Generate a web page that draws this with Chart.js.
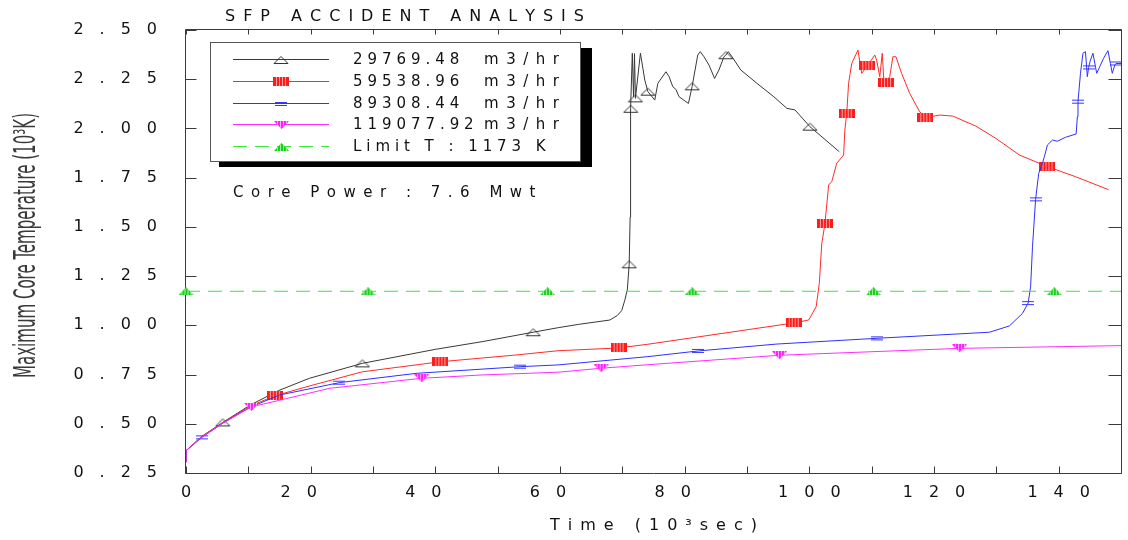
<!DOCTYPE html>
<html>
<head>
<meta charset="utf-8">
<title>SFP Accident Analysis</title>
<script src="https://cdn.jsdelivr.net/npm/chart.js@4/dist/chart.umd.min.js"></script>
<style>
  body { margin: 0; background: #fff; }
  canvas { display: block; }
</style>
</head>
<body>
<canvas id="sfpChart" width="1128" height="540"></canvas>
<script>
// Pool cooling flow of each case (m3/hr)
const flowRates = ["29769.48", "59538.96", "89308.44", "119077.92"];
const limitText = "Limit T : 1173 K";
const powerText = "Core Power : 7.6 Mwt";

// Axis ticks
const xLabels = [0, 20, 40, 60, 80, 100, 120, 140];
const yTicks = [0.25, 0.5, 0.75, 1.0, 1.25, 1.5, 1.75, 2.0, 2.25, 2.5];

// Case 1 : time (10^3 sec) / max core temperature (10^3 K)
const time1 = [0, 0, 2.5, 5.9, 10.3, 14.8, 19.8, 28.3, 40.0, 47.5,
  55.7, 59.7, 63.0, 68.0, 69.2, 69.9, 70.4, 70.8, 71.1, 71.25,
  71.3, 71.35, 71.6, 71.8, 71.95, 72.1, 72.9, 73.6, 74.1, 75.2,
  75.7, 77.0, 77.5, 78.1, 78.6, 79.1, 80.6, 81.2, 82.1, 82.5,
  83.1, 83.9, 84.8, 85.5, 86.3, 86.6, 87.0, 87.6, 89.0, 91.6,
  94.3, 96.4, 97.7, 100.1, 104.8];
const temp1 = [0.305, 0.363, 0.435, 0.507, 0.595, 0.668, 0.731, 0.807, 0.878, 0.917,
  0.965, 0.988, 1.005, 1.027, 1.05, 1.075, 1.128, 1.18, 1.31, 1.55,
  1.99, 2.10, 2.382, 2.16, 2.38, 2.153, 2.382, 2.246, 2.187, 2.144,
  2.229, 2.288, 2.263, 2.212, 2.198, 2.161, 2.127, 2.214, 2.373, 2.39,
  2.364, 2.322, 2.254, 2.297, 2.364, 2.372, 2.39, 2.364, 2.297, 2.229,
  2.161, 2.102, 2.094, 2.009, 1.882];
const marks1 = [5.9, 28.3, 55.7, 71.1, 71.35, 72.1, 74.1, 81.2, 86.6, 100.1];

// Case 2
const time2 = [0, 0, 2.5, 5.9, 10.3, 14.25, 19.8, 28.3, 40.8, 52.8,
  59.7, 69.4, 74.1, 97.5, 99.9, 101.1, 101.6, 102.0, 102.5, 103.1,
  103.6, 104.4, 105.5, 105.7, 106.0, 106.3, 106.8, 107.8, 108.4, 109.3,
  110.5, 110.8, 111.3, 111.7, 111.95, 112.3, 112.9, 113.4, 113.9, 114.8,
  116.1, 117.7, 118.6, 120.9, 123.0, 126.7, 129.9, 133.7, 138.2, 142.7,
  148.0];
const temp2 = [0.305, 0.363, 0.435, 0.505, 0.59, 0.642, 0.692, 0.764, 0.815, 0.849,
  0.871, 0.885, 0.904, 1.012, 1.027, 1.095, 1.213, 1.417, 1.515, 1.713,
  1.73, 1.823, 1.865, 1.992, 2.077, 2.229, 2.33, 2.398, 2.28, 2.318,
  2.373, 2.347, 2.263, 2.382, 2.246, 2.234, 2.263, 2.364, 2.364, 2.28,
  2.178, 2.085, 2.054, 2.068, 2.063, 2.012, 1.95, 1.865, 1.806, 1.755,
  1.689];
const marks2 = [14.25, 40.8, 69.4, 97.5, 102.5, 106.0, 109.3, 112.3, 118.6, 138.2];

// Case 3
const time3 = [0, 0, 2.55, 5.9, 10.3, 15.0, 24.6, 36.9, 53.6, 59.7,
  74.1, 82.2, 94.8, 110.8, 128.9, 132.1, 134.2, 135.1, 135.5, 135.8,
  136.3, 136.8, 137.4, 137.7, 138.2, 139.0, 139.8, 141.1, 142.8, 143.0,
  143.1, 143.5, 143.9, 144.3, 144.6, 144.8, 145.1, 145.5, 146.1, 146.6,
  147.2, 147.9, 148.3, 148.6, 149.0, 149.2, 150];
const temp3 = [0.305, 0.363, 0.431, 0.503, 0.584, 0.646, 0.709, 0.756, 0.790, 0.799,
  0.841, 0.870, 0.905, 0.934, 0.965, 0.997, 1.061, 1.113, 1.196, 1.399,
  1.64, 1.772, 1.823, 1.856, 1.916, 1.941, 1.935, 1.955, 1.972, 2.06,
  2.136, 2.28, 2.382, 2.39, 2.263, 2.31, 2.347, 2.382, 2.28, 2.314,
  2.356, 2.395, 2.33, 2.28, 2.322, 2.33, 2.33];
const marks3 = [2.55, 24.6, 53.6, 82.2, 110.8, 135.1, 136.3, 143.1, 144.8, 149.2];

// Case 4
const time4 = [0, 0, 2.5, 5.9, 10.5, 15.6, 23.0, 37.8, 47.5, 59.7, 66.6, 74.1, 95.2, 124.1, 150];
const temp4 = [0.305, 0.363, 0.432, 0.503, 0.586, 0.624, 0.680, 0.731, 0.748, 0.762, 0.782, 0.800, 0.848, 0.883, 0.897];
const marks4 = [10.5, 37.8, 66.6, 95.2, 124.1];

// Fuel temperature limit
const timeLimit = [0, 29.2, 58.0, 81.2, 110.3, 139.3, 150];
const tempLimit = [1.173, 1.173, 1.173, 1.173, 1.173, 1.173, 1.173];
const marksLimit = [0, 29.2, 58.0, 81.2, 110.3, 139.3];

const FACE = "'DejaVu Sans', sans-serif";
const EM = "\u2003", EN = "\u2002", THIRD = "\u2004";

// plotter style lettering: a fixed gap after every character
function spaced(str, gap) {
  return Array.from(str).join(gap);
}

function makeMarker(w, h, paint) {
  const c = document.createElement("canvas");
  c.width = w;
  c.height = h;
  paint(c.getContext("2d"), w, h);
  return c;
}

function stripes(g, w, h, color) {
  g.strokeStyle = color;
  g.lineWidth = 1;
  for (let x = 3.5; x < w - 2; x += 3) {
    g.beginPath();
    g.moveTo(x, 0);
    g.lineTo(x, h);
    g.stroke();
  }
}

const openTriangle = makeMarker(16, 10, (g) => {
  g.strokeStyle = "#333";
  g.lineWidth = 1;
  g.beginPath();
  g.moveTo(1, 8.5);
  g.lineTo(15, 8.5);
  g.lineTo(8, 1.5);
  g.closePath();
  g.stroke();
});

const stripedBox = makeMarker(16, 9, (g, w, h) => {
  g.fillStyle = "#ff1c1c";
  g.fillRect(0, 0, w, h);
  stripes(g, w, h, "#ffa0a0");
});

const doubleBar = makeMarker(12, 6, (g) => {
  g.strokeStyle = "#3535ff";
  g.lineWidth = 1;
  g.beginPath();
  g.moveTo(0, 1.5);
  g.lineTo(12, 1.5);
  g.moveTo(0, 4.5);
  g.lineTo(12, 4.5);
  g.stroke();
});

const downTriangle = makeMarker(15, 8, (g, w, h) => {
  g.beginPath();
  g.moveTo(0, 0);
  g.lineTo(w, 0);
  g.lineTo(w / 2, h);
  g.closePath();
  g.fillStyle = "#ff1eff";
  g.fill();
  g.clip();
  stripes(g, w, h, "#ffa8ff");
});

const upTriangle = makeMarker(15, 8, (g, w, h) => {
  g.beginPath();
  g.moveTo(0, h);
  g.lineTo(w, h);
  g.lineTo(w / 2, 0);
  g.closePath();
  g.fillStyle = "#16d016";
  g.fill();
  g.clip();
  stripes(g, w, h, "#9ef09e");
});

function series(label, unit, t, v, marks, color, marker, order) {
  return {
    label: label,
    unit: unit,
    data: t.map((x, i) => ({ x: x, y: v[i] })),
    borderColor: color,
    backgroundColor: color,
    borderWidth: 1,
    pointStyle: marker,
    pointRadius: (c) => (c.raw && marks.includes(c.raw.x) ? 6 : 0),
    pointHoverRadius: 0,
    tension: 0,
    fill: false,
    order: order,
  };
}

const datasets = [
  series(flowRates[0], "m3/hr", time1, temp1, marks1, "#383838", openTriangle, 4),
  series(flowRates[1], "m3/hr", time2, temp2, marks2, "#ff2a2a", stripedBox, 3),
  series(flowRates[2], "m3/hr", time3, temp3, marks3, "#2f2fff", doubleBar, 2),
  series(flowRates[3], "m3/hr", time4, temp4, marks4, "#ff2cff", downTriangle, 1),
  series(limitText, "", timeLimit, tempLimit, marksLimit, "#3ae83a", upTriangle, 0),
];
datasets[4].borderDash = [14, 8];
datasets[4].clip = false;

// frame with inward ticks on all four sides
const framePlugin = {
  id: "frame",
  beforeDatasetsDraw(chart) {
    const { ctx, chartArea: a, scales } = chart;
    const left = Math.round(a.left) - 0.5;
    const right = Math.round(a.right) + 0.5;
    const top = Math.round(a.top) - 0.5;
    const bottom = Math.round(a.bottom) + 0.5;
    ctx.save();
    ctx.strokeStyle = "#3a3a3a";
    ctx.lineWidth = 1;
    ctx.beginPath();
    ctx.rect(left, top, right - left, bottom - top);
    scales.x.ticks.forEach((t) => {
      const px = Math.round(scales.x.getPixelForValue(t.value)) + 0.5;
      ctx.moveTo(px, top);
      ctx.lineTo(px, top + 5);
      ctx.moveTo(px, bottom);
      ctx.lineTo(px, bottom - 7);
    });
    scales.y.ticks.forEach((t) => {
      const py = Math.round(scales.y.getPixelForValue(t.value)) + 0.5;
      ctx.moveTo(left, py);
      ctx.lineTo(left + 11, py);
      ctx.moveTo(right, py);
      ctx.lineTo(right - 13, py);
    });
    ctx.stroke();
    ctx.restore();
  },
};

// title, legend box, core power note and the condensed y axis title
const notesPlugin = {
  id: "notes",
  afterDraw(chart) {
    const ctx = chart.ctx;
    ctx.save();
    ctx.fillStyle = "#111";
    ctx.textBaseline = "middle";
    ctx.textAlign = "left";

    ctx.font = "16px " + FACE;
    ctx.fillText(spaced("SFP ACCIDENT ANALYSIS", EN), 225, 17);

    // legend with drop shadow
    ctx.fillStyle = "#000";
    ctx.fillRect(219, 48, 373, 119);
    ctx.fillStyle = "#fff";
    ctx.fillRect(210, 42, 371, 120);
    ctx.strokeStyle = "#555";
    ctx.lineWidth = 1;
    ctx.strokeRect(210.5, 42.5, 370, 119);

    chart.data.datasets.forEach((ds, i) => {
      const y = Math.round(59 + i * 21.8) + 0.5;
      ctx.save();
      ctx.strokeStyle = ds.borderColor;
      ctx.setLineDash(ds.borderDash || []);
      ctx.beginPath();
      ctx.moveTo(233, y);
      ctx.lineTo(329, y);
      ctx.stroke();
      ctx.restore();
      const m = ds.pointStyle;
      ctx.drawImage(m, Math.round(281 - m.width / 2), Math.round(y - m.height / 2));
      ctx.fillStyle = "#111";
      ctx.font = "15px " + FACE;
      ctx.textAlign = "left";
      ctx.fillText(spaced(ds.label, THIRD), 353, y + 1);
      if (ds.unit) {
        ctx.textAlign = "right";
        ctx.fillText(spaced(ds.unit, EN), 559, y + 1);
      }
    });

    ctx.textAlign = "left";
    ctx.font = "15px " + FACE;
    ctx.fillText(spaced(powerText, EN), 233, 193);

    // rotated, narrow y axis title
    const yTitle = "Maximum Core Temperature (10\u00b3K)";
    ctx.translate(35, 245.5);
    ctx.rotate(-Math.PI / 2);
    ctx.font = "30px 'Liberation Sans Narrow', 'DejaVu Sans Condensed', " + FACE;
    const w = ctx.measureText(yTitle).width;
    ctx.scale(265 / w, 1);
    ctx.textAlign = "center";
    ctx.textBaseline = "alphabetic";
    ctx.fillStyle = "#3a3a3a";
    ctx.fillText(yTitle, 0, 0);
    ctx.restore();
  },
};

function xTickLabel(v) {
  if (!xLabels.includes(v)) return "";
  const s = spaced(String(v), EM);
  return v >= 10 && v < 100 ? s + EM + EN : s;
}

const chart = new Chart(document.getElementById("sfpChart"), {
  type: "line",
  data: { datasets: datasets },
  options: {
    responsive: false,
    animation: false,
    events: [],
    layout: { padding: { top: 30, right: 1.5, left: 0, bottom: 0 } },
    plugins: {
      legend: { display: false },
      tooltip: { enabled: false },
    },
    scales: {
      x: {
        type: "linear",
        min: 0,
        max: 150,
        // fixed axis band; the label overhang must not shrink the plot
        afterFit: (s) => {
          s.height = 67;
          s.paddingLeft = 0;
          s.paddingRight = 0;
        },
        grid: { display: false, drawTicks: false },
        border: { display: false },
        ticks: {
          stepSize: 10,
          autoSkip: false,
          maxRotation: 0,
          padding: 10,
          color: "#111",
          font: { family: FACE, size: 16 },
          callback: xTickLabel,
        },
        title: {
          display: true,
          text: spaced("Time (10\u00b3sec)", EN),
          color: "#111",
          font: { family: FACE, size: 16 },
          padding: { top: 0, bottom: 5 },
        },
      },
      y: {
        type: "linear",
        min: 0.25,
        max: 2.5,
        afterFit: (s) => {
          s.width = 186;
          s.paddingTop = 0;
          s.paddingBottom = 0;
        },
        afterBuildTicks: (s) => { s.ticks = yTicks.map((v) => ({ value: v })); },
        grid: { display: false, drawTicks: false },
        border: { display: false },
        ticks: {
          padding: 29,
          color: "#111",
          font: { family: FACE, size: 16 },
          callback: (v) => spaced(v.toFixed(2), EM),
        },
      },
    },
  },
  plugins: [framePlugin, notesPlugin],
});
</script>
</body>
</html>
